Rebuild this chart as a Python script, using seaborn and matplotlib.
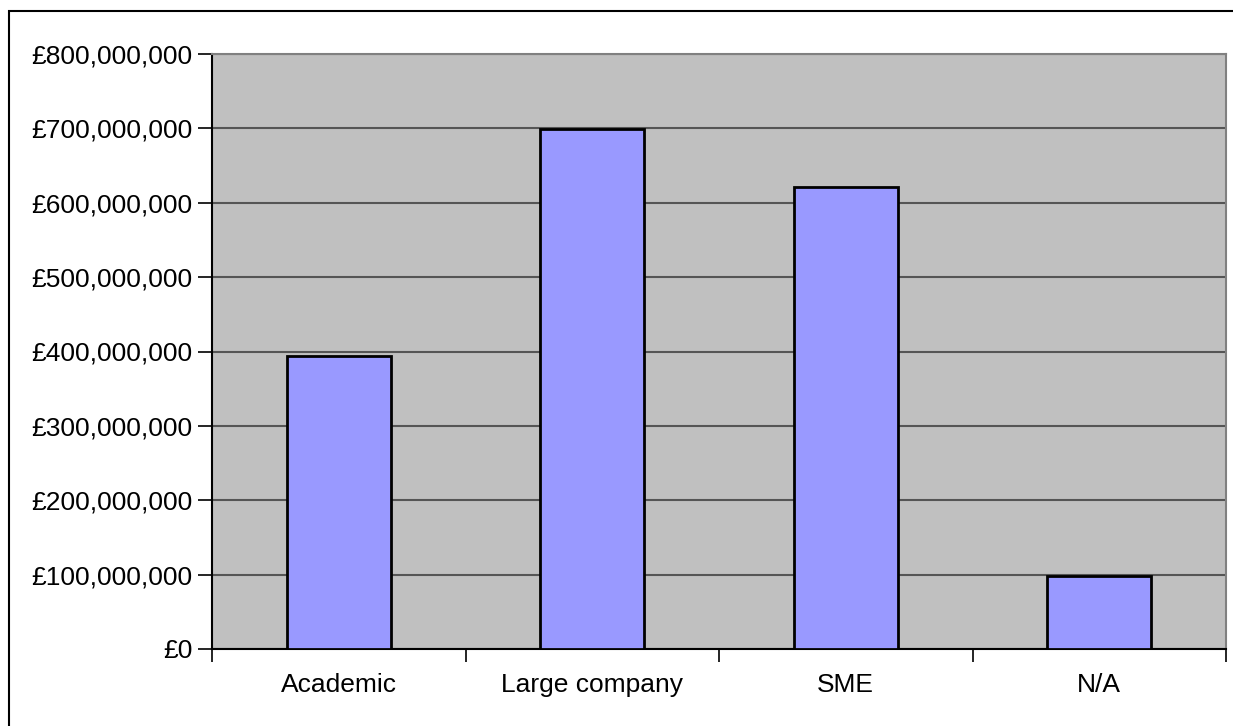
import matplotlib
matplotlib.use("Agg")
import matplotlib.pyplot as plt
from matplotlib.ticker import FuncFormatter, MultipleLocator, FixedLocator
from matplotlib.patches import Rectangle
import seaborn as sns
import pandas as pd

# Funding by organisation type
categories = ["Academic", "Large company", "SME", "N/A"]
funding = [393_500_000, 699_500_000, 621_000_000, 98_600_000]

df = pd.DataFrame({"category": categories, "funding": funding})

sns.set_style("white")
plt.rcParams["font.family"] = ["Liberation Sans", "DejaVu Sans"]

fig = plt.figure(figsize=(12.33, 7.26), dpi=100)
ax = fig.add_axes([212 / 1233, 1 - 649 / 726, (1226 - 212) / 1233, (649 - 54) / 726])
ax.set_facecolor("#c0c0c0")

sns.barplot(data=df, x="category", y="funding", order=categories, ax=ax,
            color="#9999ff", saturation=1, width=0.41,
            edgecolor="black", linewidth=2, zorder=3)

ax.set_xlim(-0.5, len(categories) - 0.5)
ax.set_ylim(0, 800_000_000)
ax.yaxis.set_major_locator(MultipleLocator(100_000_000))
ax.yaxis.set_major_formatter(FuncFormatter(lambda v, p: f"£{v:,.0f}"))
ax.grid(axis="y", color="#555555", linewidth=1.5, zorder=1)
ax.set_axisbelow(True)

ax.set_xlabel("")
ax.set_ylabel("")

# category separators as minor ticks, labels at the centres
ax.xaxis.set_minor_locator(FixedLocator([i - 0.5 for i in range(len(categories) + 1)]))
ax.tick_params(axis="x", which="major", length=0, pad=17, labelsize=19, colors="black")
ax.tick_params(axis="x", which="minor", length=9, width=1.2, color="black", bottom=True)
ax.tick_params(axis="y", which="major", length=10, width=1.2, pad=4, labelsize=19,
               colors="black", left=True)

for side in ("left", "bottom"):
    ax.spines[side].set_color("black")
    ax.spines[side].set_linewidth(1.5)
for side in ("top", "right"):
    ax.spines[side].set_color("#808080")
    ax.spines[side].set_linewidth(1.5)

# chart-area frame
fig.patches.append(Rectangle((9 / 1233, -0.05), 1.2, 1 - 11 / 726 + 0.05,
                             transform=fig.transFigure, fill=False,
                             edgecolor="black", linewidth=1.5))

fig.savefig("out.png", dpi=100)
